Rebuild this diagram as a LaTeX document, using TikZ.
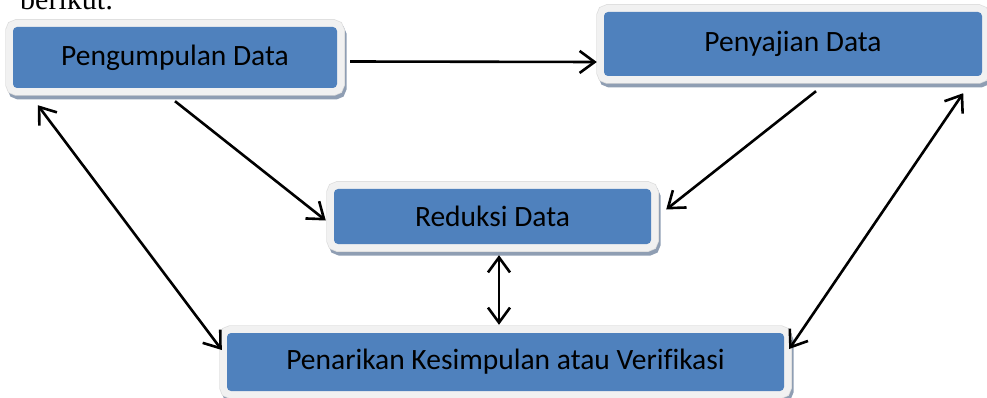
\documentclass[tikz,border=0pt]{standalone}
\usepackage{fontspec}
\setmainfont{Carlito}[Ligatures=NoCommon]
\newfontfamily\serifb{Liberation Serif}
\usetikzlibrary{arrows.meta,calc}
\definecolor{boxblue}{HTML}{4F81BD}
\definecolor{framegray}{HTML}{F1F1F1}
\definecolor{frameline}{HTML}{DEDEDE}
\definecolor{shadowc}{HTML}{8F9EB3}
\tikzset{
  flowbox/.style={fill=boxblue, rounded corners=4pt, inner sep=0pt, align=center,
    font=\fontsize{29.5}{33}\selectfont, text=black,
    preaction={draw=shadowc, line width=15pt, transform canvas={shift={(2pt,-4pt)}}},
    preaction={draw=frameline, line width=15.5pt},
    preaction={draw=framegray, line width=14pt}},
  conn/.style={draw=black, line width=2.6pt},
  tip/.tip={Straight Barb[length=15pt,width=22pt,line width=2.6pt]}
}
\begin{document}
\begin{tikzpicture}[x=1pt,y=-1pt]
\useasboundingbox (0,0) rectangle (987,398);
\node[anchor=base west, font=\serifb\fontsize{30}{34}\selectfont, inner sep=0pt] (ber) at (20,10) {berikut:};
\node[flowbox, minimum width=324pt, minimum height=61pt] (b1) at (175,57.5) {Pengumpulan Data};
\node[flowbox, minimum width=378pt, minimum height=64pt] (b2) at (793,44) {Penyajian Data};
\node[flowbox, minimum width=317pt, minimum height=55pt] (b3) at (492.5,216.5) {Reduksi Data};
\node[flowbox, minimum width=557pt, minimum height=58pt] (b4) at (505.5,362) {Penarikan Kesimpulan atau Verifikasi};
\draw[conn, -tip] ([shift={(13,4)}]b1.east) -- ([shift={(-7,18)}]b2.west);
\draw[conn, -tip] ([shift={(0,13)}]b1.south) -- ([shift={(-8,4)}]b3.west);
\draw[conn, -tip] ([shift={(23,15)}]b2.south) -- ([shift={(15,-7)}]b3.east);
\draw[conn, tip-tip] ([shift={(25,17)}]b1.south west) -- ([shift={(-5,-12)}]b4.west);
\draw[conn, tip-tip] ([shift={(-19,17)}]b2.south east) -- ([shift={(5,-13)}]b4.east);
\draw[conn, tip-tip] ([shift={(6.5,11)}]b3.south) -- ([shift={(-6.5,-8)}]b4.north);
\end{tikzpicture}
\end{document}
